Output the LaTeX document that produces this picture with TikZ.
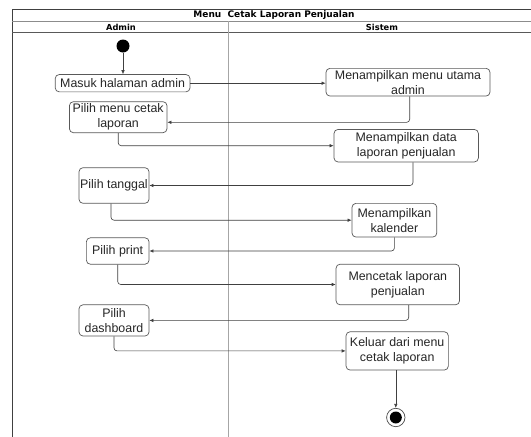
\documentclass[tikz,border=0pt]{standalone}
\usepackage{fontspec}
\setmainfont{Liberation Sans}
\newfontfamily\hdfont{DejaVu Sans}
\usetikzlibrary{arrows.meta,calc}
\begin{document}
\begin{tikzpicture}[x=1pt,y=-1pt,
  act/.style={draw=black!65, rounded corners=4pt, line width=0.7pt, fill=white,
    align=center, inner sep=0pt, font=\fontsize{12.4}{15}\selectfont, text=black!85},
  flow/.style={draw=black!75, line width=0.6pt, rounded corners=3pt,
    -{Latex[length=4pt,width=3.5pt]}},
  lane/.style={line width=0.8pt},
  hd/.style={font=\hdfont\bfseries\fontsize{8.3}{10}\selectfont, inner sep=0pt}]
\useasboundingbox (0,0) rectangle (531,437);
\fill[white] (0,0) rectangle (531,437);
% frame
\draw[black!75, lane] (531,9.5) -- (12.3,9.5) -- (12.3,437);
\draw[black!45, lane] (12.3,21) -- (531,21);
\draw[black!65, lane] (12.3,32.7) -- (531,32.7);
\draw[black!35, lane] (228.7,21) -- (228.7,437);
\node[hd, font=\hdfont\bfseries\fontsize{9}{10}\selectfont] (title) at (274,15.3) {Menu~~Cetak Laporan Penjualan};
\node[hd] (admin) at (121,27) {Admin};
\node[hd] (sistem) at (382,27) {Sistem};
% start / end
\node[circle, fill=black, minimum size=13pt, inner sep=0pt] (start) at (123,46) {};
\node[circle, draw=black!70, line width=0.7pt, fill=white, minimum size=18.4pt, inner sep=0pt] (end) at (395.8,417.5) {};
\node[circle, fill=black, minimum size=12pt, inner sep=0pt] (endin) at (end) {};
% activities
\node[act, minimum width=134.8pt, minimum height=17.3pt] (masuk) at (122.6,83.2) {Masuk halaman admin};
\node[act, minimum width=164pt, minimum height=27.7pt] (menu) at (408,82.2) {Menampilkan menu utama\\admin};
\node[act, minimum width=97.6pt, minimum height=31pt] (pmc) at (118.2,117.2) {Pilih menu cetak\\laporan};
\node[act, minimum width=144.4pt, minimum height=32.5pt] (data) at (406.2,145.7) {Menampilkan data\\laporan penjualan};
\node[act, minimum width=70pt, minimum height=35.6pt] (tgl) at (114,185.5) {Pilih tanggal};
\node[act, minimum width=84.8pt, minimum height=33.7pt] (kal) at (394.4,220.2) {Menampilkan\\kalender};
\node[act, minimum width=62.7pt, minimum height=26.4pt] (prn) at (117.7,251) {Pilih print};
\node[act, minimum width=123.5pt, minimum height=40.6pt] (cet) at (397.8,284.5) {Mencetak laporan\\penjualan};
\node[act, minimum width=70pt, minimum height=31.2pt] (dsh) at (114,320.4) {Pilih\\dashboard};
\node[act, minimum width=102.3pt, minimum height=38.3pt] (kel) at (397.2,350.9) {Keluar dari menu\\cetak laporan};
% flows
\draw[flow] (start) -- (start |- masuk.north);
\draw[flow] (masuk.east) -- (masuk.east -| menu.west);
\draw[flow] ($(menu.south)+(1.7,0)$) |- ($(pmc.east)+(0,5.1)$);
\draw[flow] (pmc.south) |- (data.west);
\draw[flow] ($(data.south)+(6.8,0)$) |- (tgl.east);
\draw[flow] ($(tgl.south)+(-3,0)$) |- (kal.west);
\draw[flow] (kal.south) |- (prn.east);
\draw[flow] (prn.south) |- (cet.west);
\draw[flow] ($(cet.south)+(10.9,0)$) |- (dsh.east);
\draw[flow] (dsh.south) |- (kel.west);
\draw[flow] (end.north |- kel.south) -- (end.north);
\end{tikzpicture}
\end{document}
